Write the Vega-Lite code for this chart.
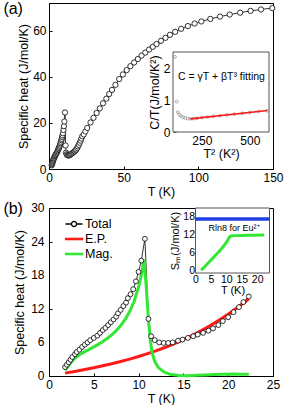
{
"$schema": "https://vega.github.io/schema/vega-lite/v6.json",
"background": "white",
"padding": {"left": 2, "top": 0, "right": 0, "bottom": 0},
"spacing": 2,
"datasets": {
"b_total": [{"T":1.8,"C":1.6},{"T":2.0,"C":2.0},{"T":2.2,"C":2.45},{"T":2.4,"C":2.9},{"T":2.6,"C":3.4},{"T":2.9,"C":3.9},{"T":3.1,"C":4.3},{"T":3.4,"C":4.7},{"T":3.7,"C":5.2},{"T":4.0,"C":5.6},{"T":4.3,"C":6.0},{"T":4.6,"C":6.4},{"T":5.0,"C":6.8},{"T":5.4,"C":7.2},{"T":5.7,"C":7.7},{"T":6.0,"C":8.2},{"T":6.3,"C":8.6},{"T":6.6,"C":9.1},{"T":6.9,"C":9.6},{"T":7.2,"C":10.1},{"T":7.5,"C":10.6},{"T":7.7,"C":11.2},{"T":8.0,"C":11.8},{"T":8.3,"C":12.5},{"T":8.6,"C":13.1},{"T":8.8,"C":13.9},{"T":9.1,"C":14.6},{"T":9.4,"C":15.5},{"T":9.7,"C":16.9},{"T":10.0,"C":18.6},{"T":10.3,"C":20.6},{"T":10.7,"C":24.5},{"T":11.1,"C":10.2},{"T":11.4,"C":7.1},{"T":11.8,"C":6.4},{"T":12.3,"C":6.0},{"T":12.8,"C":5.9},{"T":13.3,"C":5.9},{"T":13.8,"C":6.0},{"T":14.4,"C":6.3},{"T":14.9,"C":6.5},{"T":15.5,"C":6.8},{"T":16.1,"C":7.1},{"T":16.6,"C":7.4},{"T":17.2,"C":7.7},{"T":17.8,"C":8.1},{"T":18.3,"C":8.5},{"T":18.9,"C":9.1},{"T":19.4,"C":9.8},{"T":20.0,"C":10.5},{"T":20.6,"C":11.4},{"T":21.2,"C":12.3},{"T":21.7,"C":13.2},{"T":22.3,"C":14.2}],
"a_total": [{"T":1.8,"C":1.6},{"T":2.0,"C":2.0},{"T":2.2,"C":2.45},{"T":2.4,"C":2.9},{"T":2.6,"C":3.4},{"T":2.9,"C":3.9},{"T":3.1,"C":4.3},{"T":3.4,"C":4.7},{"T":3.7,"C":5.2},{"T":4.0,"C":5.6},{"T":4.3,"C":6.0},{"T":4.6,"C":6.4},{"T":5.0,"C":6.8},{"T":5.4,"C":7.2},{"T":5.7,"C":7.7},{"T":6.0,"C":8.2},{"T":6.3,"C":8.6},{"T":6.6,"C":9.1},{"T":6.9,"C":9.6},{"T":7.2,"C":10.1},{"T":7.5,"C":10.6},{"T":7.7,"C":11.2},{"T":8.0,"C":11.8},{"T":8.3,"C":12.5},{"T":8.6,"C":13.1},{"T":8.8,"C":13.9},{"T":9.1,"C":14.6},{"T":9.4,"C":15.5},{"T":9.7,"C":16.9},{"T":10.0,"C":18.6},{"T":10.3,"C":20.6},{"T":10.7,"C":24.5},{"T":11.1,"C":10.2},{"T":11.4,"C":7.1},{"T":11.8,"C":6.4},{"T":12.3,"C":6.0},{"T":12.8,"C":5.9},{"T":13.3,"C":5.9},{"T":13.8,"C":6.0},{"T":14.4,"C":6.3},{"T":14.9,"C":6.5},{"T":15.5,"C":6.8},{"T":16.1,"C":7.1},{"T":16.6,"C":7.4},{"T":17.2,"C":7.7},{"T":17.8,"C":8.1},{"T":18.3,"C":8.5},{"T":18.9,"C":9.1},{"T":19.4,"C":9.8},{"T":20.0,"C":10.5},{"T":20.6,"C":11.4},{"T":21.2,"C":12.3},{"T":21.7,"C":13.2},{"T":22.3,"C":14.2},{"T":23.3,"C":15.0},{"T":24.4,"C":16.3},{"T":25.6,"C":17.8},{"T":27.8,"C":20.2},{"T":29.8,"C":22.2},{"T":31.9,"C":24.3},{"T":34,"C":26.3},{"T":36.2,"C":28.5},{"T":38.4,"C":30.5},{"T":40.3,"C":32.5},{"T":42.2,"C":34.3},{"T":44.5,"C":36.5},{"T":47,"C":39.0},{"T":49.5,"C":41.0},{"T":52,"C":42.9},{"T":54.5,"C":44.6},{"T":57,"C":46.2},{"T":59.5,"C":47.7},{"T":62,"C":49.2},{"T":64.5,"C":50.5},{"T":67,"C":51.8},{"T":69.5,"C":53.0},{"T":72,"C":54.2},{"T":75,"C":55.6},{"T":78,"C":56.9},{"T":81,"C":58.2},{"T":84.5,"C":59.5},{"T":88.5,"C":60.8},{"T":93,"C":62.0},{"T":97.5,"C":63.1},{"T":102,"C":64.0},{"T":108,"C":65.1},{"T":114.5,"C":66.1},{"T":121,"C":67.0},{"T":128,"C":67.8},{"T":135,"C":68.6},{"T":142,"C":69.2},{"T":149.5,"C":69.8}],
"a_inset": [{"T2":110,"CT":2.35},{"T2":119,"CT":0.95},{"T2":125,"CT":0.62},{"T2":132,"CT":0.55},{"T2":141,"CT":0.5},{"T2":152,"CT":0.46},{"T2":164,"CT":0.44},{"T2":177,"CT":0.42},{"T2":190,"CT":0.41},{"T2":207,"CT":0.42},{"T2":225,"CT":0.43},{"T2":250,"CT":0.45},{"T2":280,"CT":0.47},{"T2":310,"CT":0.49},{"T2":345,"CT":0.51},{"T2":380,"CT":0.535},{"T2":420,"CT":0.56},{"T2":460,"CT":0.585},{"T2":500,"CT":0.61},{"T2":545,"CT":0.64},{"T2":590,"CT":0.665}],
"a_fit": [{"T2":190,"CT":0.41},{"T2":592,"CT":0.67}],
"b_ep": [{"T":1.8,"C":0.51},{"T":3,"C":0.86},{"T":4,"C":1.16},{"T":5,"C":1.49},{"T":6,"C":1.83},{"T":7,"C":2.19},{"T":8,"C":2.59},{"T":9,"C":3.02},{"T":10,"C":3.48},{"T":11,"C":4.0},{"T":12,"C":4.54},{"T":13,"C":5.13},{"T":14,"C":5.79},{"T":15,"C":6.5},{"T":16,"C":7.27},{"T":17,"C":8.1},{"T":18,"C":9.0},{"T":19,"C":9.98},{"T":20,"C":11.04},{"T":21,"C":12.18},{"T":22,"C":13.4},{"T":22.3,"C":13.78}],
"b_mag": [{"T":1.8,"C":1.0},{"T":2.2,"C":1.9},{"T":2.6,"C":2.7},{"T":3.0,"C":3.3},{"T":3.5,"C":3.9},{"T":4.0,"C":4.35},{"T":4.5,"C":4.75},{"T":5.0,"C":5.2},{"T":5.5,"C":5.65},{"T":6.0,"C":6.15},{"T":6.5,"C":6.7},{"T":7.0,"C":7.35},{"T":7.5,"C":8.1},{"T":8.0,"C":9.0},{"T":8.5,"C":10.1},{"T":9.0,"C":11.5},{"T":9.5,"C":13.3},{"T":10.0,"C":15.9},{"T":10.3,"C":18.0},{"T":10.6,"C":20.8},{"T":10.85,"C":16.0},{"T":11.1,"C":10.0},{"T":11.3,"C":6.5},{"T":11.5,"C":4.2},{"T":11.8,"C":2.6},{"T":12.2,"C":1.5},{"T":12.8,"C":0.75},{"T":13.5,"C":0.3},{"T":14.5,"C":0.1},{"T":15.5,"C":0.05},{"T":16.5,"C":0.12},{"T":17.5,"C":0.2},{"T":18.5,"C":0.28},{"T":19.5,"C":0.33},{"T":20.5,"C":0.35},{"T":21.5,"C":0.32},{"T":22.3,"C":0.3}],
"b_sm": [{"T":1.8,"S":0},{"T":2.5,"S":0.6},{"T":3.5,"S":1.7},{"T":4.5,"S":2.8},{"T":5.5,"S":3.9},{"T":6.5,"S":5.0},{"T":7.5,"S":6.1},{"T":8.5,"S":7.3},{"T":9.5,"S":8.6},{"T":10.3,"S":9.8},{"T":10.8,"S":10.8},{"T":11.3,"S":11.4},{"T":11.8,"S":11.6},{"T":13,"S":11.65},{"T":15,"S":11.7},{"T":17,"S":11.75},{"T":19,"S":11.8},{"T":21,"S":11.85},{"T":22.3,"S":11.9}],
"b_rln8": [{"T":0,"S":17.29},{"T":24,"S":17.29}],
"b_yticks": [{"v":0},{"v":6},{"v":12},{"v":18},{"v":24},{"v":30}],
"legend_items": [{"series":"Total"},{"series":"E.P."},{"series":"Mag."}]
},
"vconcat": [
{
"width": 224, "height": 166,
"layer": [
{"layer": [
{"data": {"name": "a_total"}, "mark": {"type": "line", "color": "black", "strokeWidth": 0.8},
 "encoding": {
  "x": {"field": "T", "type": "quantitative", "scale": {"domain": [0, 150], "nice": false, "zero": false},
        "axis": {"values": [0,25,50,75,100,125,150], "labelColor": {"condition": {"test": "datum.value % 50 != 0", "value": "transparent"}, "value": "black"}, "labelOverlap": false, "title": "T (K)"}},
  "y": {"field": "C", "type": "quantitative", "scale": {"domain": [0, 72], "nice": false},
        "axis": {"values": [0,10,20,30,40,50,60,70], "labelColor": {"condition": {"test": "datum.value % 20 != 0", "value": "transparent"}, "value": "black"}, "labelOverlap": false, "title": "Specific heat (J/mol/K)"}}
 }},
{"data": {"name": "a_total"}, "mark": {"type": "point", "shape": "circle", "filled": true, "fill": "white", "stroke": "black", "strokeWidth": 0.8, "size": 28, "opacity": 1},
 "encoding": {"x": {"field": "T", "type": "quantitative"}, "y": {"field": "C", "type": "quantitative"}}},
{"data": {"values": [{"label": "(a)"}]}, "mark": {"type": "text", "fontSize": 16, "font": "Liberation Sans", "align": "center", "baseline": "middle"},
 "encoding": {"x": {"datum": -24, "type": "quantitative"}, "y": {"datum": 69.5, "type": "quantitative"}, "text": {"field": "label"}}}
]},
{"layer": [
{"data": {"values": [{"frame": "inset"}]}, "mark": {"type": "rect", "fill": "white", "stroke": "#555555", "strokeWidth": 1},
 "encoding": {"x": {"datum": 100, "type": "quantitative"}, "x2": {"datum": 600}, "y": {"datum": 0, "type": "quantitative"}, "y2": {"datum": 2.5}}},
{"data": {"name": "a_inset"}, "mark": {"type": "point", "shape": "circle", "filled": false, "stroke": "#8a8a8a", "strokeWidth": 0.7, "size": 8, "opacity": 1},
 "encoding": {
  "x": {"field": "T2", "type": "quantitative", "scale": {"domain": [100, 600], "range": [124, 220], "nice": false, "zero": false},
        "axis": {"orient": "bottom", "offset": -37, "values": [250, 500], "title": "T² (K²)", "domain": false, "tickColor": "#555555", "titlePadding": 1}},
  "y": {"field": "CT", "type": "quantitative", "scale": {"domain": [0, 2.5], "range": [129, 49], "nice": false, "zero": false},
        "axis": {"orient": "left", "offset": -124, "values": [0, 1, 2], "format": "d", "title": "C/T(J/mol/K²)", "domain": false, "tickColor": "#555555", "titlePadding": 2}}
 }},
{"data": {"name": "a_fit"}, "mark": {"type": "line", "color": "#ff1a1a", "strokeWidth": 1.6},
 "encoding": {"x": {"field": "T2", "type": "quantitative"}, "y": {"field": "CT", "type": "quantitative"}}},
{"data": {"values": [{"label": "C = γT + βT³ fitting"}]}, "mark": {"type": "text", "fontSize": 10.5, "align": "left", "baseline": "middle"},
 "encoding": {"x": {"datum": 126, "type": "quantitative"}, "y": {"datum": 1.72, "type": "quantitative"}, "text": {"field": "label"}}}
]}
],
"resolve": {"scale": {"x": "independent", "y": "independent"}, "axis": {"x": "independent", "y": "independent"}}
},
{
"width": 224, "height": 168,
"layer": [
{"layer": [
{"data": {"name": "b_total"}, "mark": {"type": "line", "color": "black", "strokeWidth": 0.8},
 "encoding": {
  "x": {"field": "T", "type": "quantitative", "scale": {"domain": [0, 25], "nice": false, "zero": false},
        "axis": {"values": [0,2.5,5,7.5,10,12.5,15,17.5,20,22.5,25], "labelColor": {"condition": {"test": "datum.value % 5 != 0", "value": "transparent"}, "value": "black"}, "labelOverlap": false, "title": "T (K)"}},
  "y": {"field": "C", "type": "quantitative", "scale": {"domain": [0, 30], "nice": false, "zero": false},
        "axis": {"values": [0,3,6,9,12,15,18,21,24,27,30], "labels": false, "titlePadding": 22, "title": "Specific heat (J/mol/K)"}}
 }},
{"data": {"name": "b_ep"}, "mark": {"type": "line", "color": "#ff1a1a", "strokeWidth": 3},
 "encoding": {"x": {"field": "T", "type": "quantitative"}, "y": {"field": "C", "type": "quantitative"}}},
{"data": {"name": "b_mag"}, "mark": {"type": "line", "color": "#33e633", "strokeWidth": 3},
 "encoding": {"x": {"field": "T", "type": "quantitative"}, "y": {"field": "C", "type": "quantitative"}}},
{"data": {"name": "b_total"}, "mark": {"type": "point", "shape": "circle", "filled": true, "fill": "white", "stroke": "black", "strokeWidth": 0.8, "size": 24, "opacity": 1},
 "encoding": {"x": {"field": "T", "type": "quantitative"}, "y": {"field": "C", "type": "quantitative"}}},
{"data": {"name": "b_yticks"}, "mark": {"type": "text", "fontSize": 12, "font": "Liberation Sans", "align": "right", "baseline": "middle", "color": "black"},
 "encoding": {"x": {"datum": -0.5, "type": "quantitative"}, "y": {"field": "v", "type": "quantitative"}, "text": {"field": "v", "type": "quantitative", "format": "d"}}},
{"data": {"values": [{"label": "(b)"}]}, "mark": {"type": "text", "fontSize": 16, "font": "Liberation Sans", "align": "center", "baseline": "middle"},
 "encoding": {"x": {"datum": -4.0, "type": "quantitative"}, "y": {"datum": 29.8, "type": "quantitative"}, "text": {"field": "label"}}},
{"data": {"name": "legend_items"}, "transform": [{"filter": "false"}],
 "mark": {"type": "point", "filled": false, "strokeWidth": 1.3, "opacity": 1},
 "encoding": {
  "color": {"field": "series", "type": "nominal", "scale": {"domain": ["Total", "E.P.", "Mag."], "range": ["black", "#ff1a1a", "#33e633"]},
            "legend": {"orient": "none", "legendX": 17, "legendY": 8, "title": null, "symbolSize": 200, "symbolStrokeWidth": 1.3, "labelFontSize": 12.5, "labelFont": "Liberation Sans", "labelColor": "black", "rowPadding": -1.8, "labelOffset": 3, "padding": 0}},
  "shape": {"field": "series", "type": "nominal", "scale": {"domain": ["Total", "E.P.", "Mag."], "range": ["M-1.2,0H-0.36M0.36,0H1.2M0.36,0A0.36,0.36,0,1,1,-0.36,0A0.36,0.36,0,1,1,0.36,0", "M-1.2,-0.09H1.2V0.09H-1.2Z", "M-1.2,-0.09H1.2V0.09H-1.2Z"]}}
 }}
]},
{"layer": [
{"data": {"values": [{"frame": "inset"}]}, "mark": {"type": "rect", "fill": "white", "stroke": "#555555", "strokeWidth": 1},
 "encoding": {"x": {"datum": 0, "type": "quantitative"}, "x2": {"datum": 24}, "y": {"datum": -1, "type": "quantitative"}, "y2": {"datum": 21}}},
{"data": {"name": "b_rln8"}, "mark": {"type": "line", "color": "#1f3fe0", "strokeWidth": 3.5},
 "encoding": {
  "x": {"field": "T", "type": "quantitative", "scale": {"domain": [0, 24], "range": [146.5, 220.5], "nice": false, "zero": false},
        "axis": {"orient": "bottom", "offset": -103, "values": [0, 5, 10, 15, 20], "title": "T (K)", "domain": false, "labelFontSize": 10.5, "titleFontSize": 11, "tickColor": "#555555", "labelPadding": 4, "titlePadding": 0}},
  "y": {"field": "S", "type": "quantitative", "scale": {"domain": [-1, 21], "range": [65, 0], "nice": false, "zero": false},
        "axis": {"orient": "left", "offset": -146.5, "values": [0, 6, 12, 18], "title": "Sₘ(J/mol/K)", "domain": false, "labelFontSize": 10.5, "titleFontSize": 11, "tickColor": "#555555", "labelPadding": 4, "titlePadding": 2}}
 }},
{"data": {"name": "b_sm"}, "mark": {"type": "line", "color": "#33e633", "strokeWidth": 3},
 "encoding": {"x": {"field": "T", "type": "quantitative"}, "y": {"field": "S", "type": "quantitative"}}},
{"data": {"values": [{"label": "Rln8 for Eu²⁺"}]}, "mark": {"type": "text", "fontSize": 9, "align": "center", "baseline": "middle"},
 "encoding": {"x": {"datum": 12.5, "type": "quantitative"}, "y": {"datum": 14.3, "type": "quantitative"}, "text": {"field": "label"}}}
]}
],
"resolve": {"scale": {"x": "independent", "y": "independent"}, "axis": {"x": "independent", "y": "independent"}}
}
],
"resolve": {"scale": {"color": "independent", "shape": "independent"}},
"config": {
 "font": "Liberation Sans",
 "view": {"stroke": "black", "strokeWidth": 1},
 "text": {"font": "Liberation Sans", "color": "black"},
 "axis": {"labelFont": "Liberation Sans", "titleFont": "Liberation Sans", "labelFontSize": 12, "titleFontSize": 12.5, "titleFontWeight": "normal", "labelColor": "black", "titleColor": "black", "domainColor": "black", "tickColor": "black", "tickSize": -3, "labelPadding": 6, "titlePadding": 2, "grid": false, "labelFlush": false, "labelOverlap": false}
}
}
